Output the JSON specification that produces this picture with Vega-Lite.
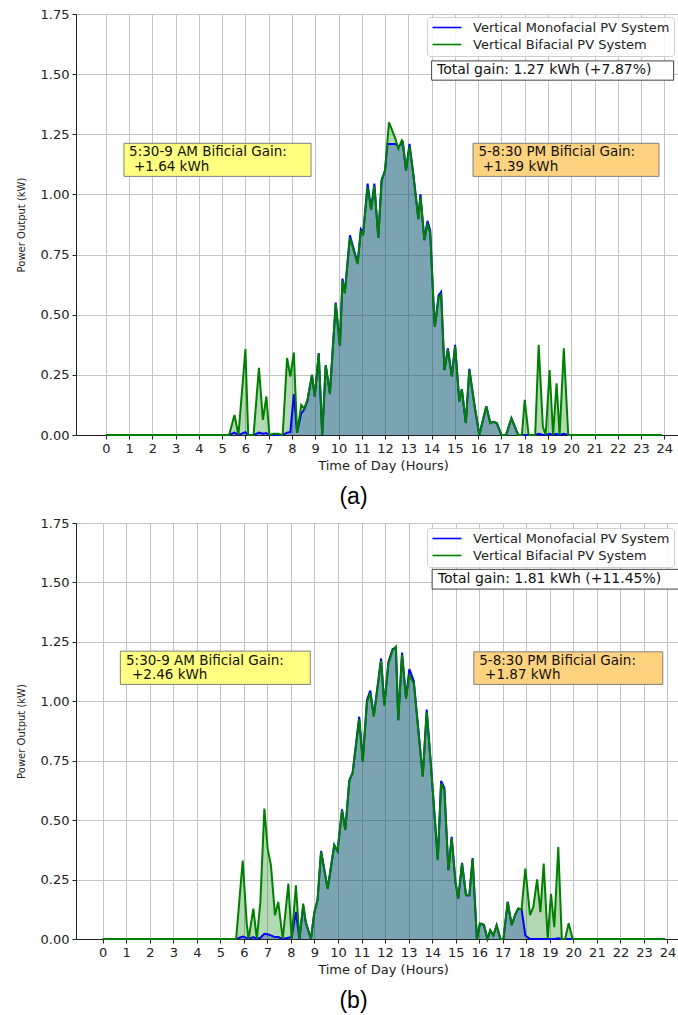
{
  "$schema": "https://vega.github.io/schema/vega-lite/v6.json",
  "padding": {"left": 15, "top": 7, "right": 0, "bottom": 0},
  "background": "white",
  "spacing": 6,
  "config": {
    "view": {"stroke": "#222", "strokeWidth": 1},
    "axis": {"domainColor": "#222", "tickColor": "#222", "gridColor": "#c4c4c4", "gridWidth": 1, "labelFont": "DejaVu Sans", "labelFontSize": 13, "labelColor": "#222", "titleFont": "DejaVu Sans", "titleFontWeight": "normal", "titleColor": "#222", "tickSize": 4, "labelPadding": 3},
    "legend": {"orient": "none", "title": null, "symbolType": "M-1,0H4.8", "symbolSize": 100, "symbolStrokeWidth": 1.6, "symbolOpacity": 1, "labelFont": "DejaVu Sans", "labelFontSize": 13, "labelColor": "#222", "labelLimit": 400, "padding": 4, "fillColor": "rgba(255,255,255,0.85)", "strokeColor": "#d0d0d0", "cornerRadius": 3, "rowPadding": 3, "labelOffset": 29},
    "title": {"font": "Liberation Sans", "fontSize": 23, "fontWeight": "normal", "color": "#000"}
  },
  "resolve": {"scale": {"color": "independent", "x": "independent", "y": "independent"}, "legend": {"color": "independent"}},
  "datasets": {
    "a": [
      {"t": 0, "m": 0, "b": 0}, {"t": 5.3, "m": 0, "b": 0}, {"t": 5.53, "m": 0.01, "b": 0.083}, {"t": 5.7, "m": 0, "b": 0},
      {"t": 6.0, "m": 0.012, "b": 0.357}, {"t": 6.12, "m": 0, "b": 0}, {"t": 6.35, "m": 0, "b": 0}, {"t": 6.58, "m": 0.01, "b": 0.279},
      {"t": 6.75, "m": 0.005, "b": 0.063}, {"t": 6.9, "m": 0.008, "b": 0.16}, {"t": 7.03, "m": 0, "b": 0}, {"t": 7.2, "m": 0, "b": 0.005},
      {"t": 7.4, "m": 0, "b": 0.005}, {"t": 7.6, "m": 0, "b": 0}, {"t": 7.79, "m": 0.01, "b": 0.32}, {"t": 7.93, "m": 0.012, "b": 0.243},
      {"t": 8.08, "m": 0.17, "b": 0.343}, {"t": 8.22, "m": 0.01, "b": 0.01}, {"t": 8.4, "m": 0.09, "b": 0.125}, {"t": 8.52, "m": 0.105, "b": 0.11},
      {"t": 8.66, "m": 0.14, "b": 0.145}, {"t": 8.86, "m": 0.25, "b": 0.25}, {"t": 8.98, "m": 0.16, "b": 0.16}, {"t": 9.15, "m": 0.34, "b": 0.34},
      {"t": 9.3, "m": 0, "b": 0}, {"t": 9.45, "m": 0.29, "b": 0.29}, {"t": 9.63, "m": 0.175, "b": 0.17}, {"t": 9.88, "m": 0.55, "b": 0.545},
      {"t": 10.06, "m": 0.37, "b": 0.37}, {"t": 10.17, "m": 0.65, "b": 0.64}, {"t": 10.27, "m": 0.59, "b": 0.59}, {"t": 10.49, "m": 0.83, "b": 0.82},
      {"t": 10.82, "m": 0.715, "b": 0.71}, {"t": 10.96, "m": 0.855, "b": 0.845}, {"t": 11.06, "m": 0.84, "b": 0.835}, {"t": 11.25, "m": 1.045, "b": 1.03},
      {"t": 11.4, "m": 0.94, "b": 0.935}, {"t": 11.54, "m": 1.045, "b": 1.035}, {"t": 11.71, "m": 0.82, "b": 0.82}, {"t": 11.85, "m": 1.06, "b": 1.055},
      {"t": 12.0, "m": 1.1, "b": 1.1}, {"t": 12.1, "m": 1.21, "b": 1.22}, {"t": 12.17, "m": 1.21, "b": 1.3}, {"t": 12.33, "m": 1.21, "b": 1.26},
      {"t": 12.45, "m": 1.21, "b": 1.23}, {"t": 12.57, "m": 1.2, "b": 1.19}, {"t": 12.72, "m": 1.21, "b": 1.225}, {"t": 12.76, "m": 1.22, "b": 1.22},
      {"t": 12.9, "m": 1.1, "b": 1.1}, {"t": 13.05, "m": 1.21, "b": 1.2}, {"t": 13.22, "m": 1.08, "b": 1.075}, {"t": 13.43, "m": 0.9, "b": 0.896},
      {"t": 13.52, "m": 1.0, "b": 0.99}, {"t": 13.69, "m": 0.81, "b": 0.81}, {"t": 13.82, "m": 0.89, "b": 0.875}, {"t": 13.94, "m": 0.85, "b": 0.84},
      {"t": 14.08, "m": 0.55, "b": 0.55}, {"t": 14.14, "m": 0.45, "b": 0.45}, {"t": 14.3, "m": 0.58, "b": 0.57}, {"t": 14.41, "m": 0.595, "b": 0.583},
      {"t": 14.55, "m": 0.27, "b": 0.27}, {"t": 14.7, "m": 0.36, "b": 0.354}, {"t": 14.87, "m": 0.245, "b": 0.243}, {"t": 15.01, "m": 0.375, "b": 0.368},
      {"t": 15.19, "m": 0.14, "b": 0.139}, {"t": 15.3, "m": 0.19, "b": 0.19}, {"t": 15.47, "m": 0.05, "b": 0.049}, {"t": 15.62, "m": 0.275, "b": 0.27},
      {"t": 15.85, "m": 0.12, "b": 0.118}, {"t": 16.05, "m": 0, "b": 0}, {"t": 16.35, "m": 0.12, "b": 0.12}, {"t": 16.52, "m": 0.05, "b": 0.049},
      {"t": 16.65, "m": 0.055, "b": 0.055}, {"t": 16.8, "m": 0.05, "b": 0.05}, {"t": 17.0, "m": 0, "b": 0}, {"t": 17.2, "m": 0, "b": 0},
      {"t": 17.43, "m": 0.07, "b": 0.07}, {"t": 17.72, "m": 0, "b": 0}, {"t": 17.88, "m": 0, "b": 0}, {"t": 18.0, "m": 0, "b": 0.146},
      {"t": 18.17, "m": 0, "b": 0}, {"t": 18.45, "m": 0, "b": 0}, {"t": 18.6, "m": 0.005, "b": 0.375}, {"t": 18.78, "m": 0, "b": 0.035},
      {"t": 18.9, "m": 0, "b": 0}, {"t": 19.07, "m": 0.005, "b": 0.27}, {"t": 19.22, "m": 0, "b": 0}, {"t": 19.37, "m": 0.005, "b": 0.215},
      {"t": 19.5, "m": 0, "b": 0}, {"t": 19.68, "m": 0.005, "b": 0.36}, {"t": 19.87, "m": 0, "b": 0}, {"t": 23.9, "m": 0, "b": 0}
    ],
    "b": [
      {"t": 0, "m": 0, "b": 0}, {"t": 5.67, "m": 0, "b": 0}, {"t": 5.95, "m": 0.01, "b": 0.33}, {"t": 6.12, "m": 0.005, "b": 0.065},
      {"t": 6.2, "m": 0, "b": 0}, {"t": 6.4, "m": 0.008, "b": 0.128}, {"t": 6.55, "m": 0, "b": 0}, {"t": 6.7, "m": 0.005, "b": 0.156},
      {"t": 6.87, "m": 0.022, "b": 0.549}, {"t": 7.01, "m": 0.02, "b": 0.38}, {"t": 7.15, "m": 0.015, "b": 0.31}, {"t": 7.32, "m": 0.008, "b": 0.1},
      {"t": 7.46, "m": 0.008, "b": 0.156}, {"t": 7.65, "m": 0, "b": 0}, {"t": 7.89, "m": 0.005, "b": 0.233}, {"t": 8.03, "m": 0.008, "b": 0.0},
      {"t": 8.21, "m": 0.114, "b": 0.226}, {"t": 8.36, "m": 0, "b": 0}, {"t": 8.52, "m": 0.14, "b": 0.149}, {"t": 8.63, "m": 0.07, "b": 0.07},
      {"t": 8.85, "m": 0, "b": 0}, {"t": 8.99, "m": 0.11, "b": 0.11}, {"t": 9.13, "m": 0.165, "b": 0.165}, {"t": 9.28, "m": 0.37, "b": 0.366},
      {"t": 9.56, "m": 0.212, "b": 0.21}, {"t": 9.84, "m": 0.395, "b": 0.395}, {"t": 9.98, "m": 0.37, "b": 0.37}, {"t": 10.17, "m": 0.545, "b": 0.54},
      {"t": 10.31, "m": 0.46, "b": 0.458}, {"t": 10.48, "m": 0.668, "b": 0.665}, {"t": 10.62, "m": 0.7, "b": 0.696}, {"t": 10.9, "m": 0.935, "b": 0.925},
      {"t": 11.05, "m": 0.75, "b": 0.745}, {"t": 11.23, "m": 1.005, "b": 0.995}, {"t": 11.37, "m": 1.045, "b": 1.035}, {"t": 11.52, "m": 0.94, "b": 0.935},
      {"t": 11.83, "m": 1.18, "b": 1.17}, {"t": 11.97, "m": 0.985, "b": 0.98}, {"t": 12.14, "m": 1.165, "b": 1.155}, {"t": 12.32, "m": 1.22, "b": 1.215},
      {"t": 12.46, "m": 1.225, "b": 1.23}, {"t": 12.56, "m": 0.92, "b": 0.92}, {"t": 12.72, "m": 1.205, "b": 1.195}, {"t": 12.89, "m": 1.015, "b": 1.01},
      {"t": 13.03, "m": 1.135, "b": 1.11}, {"t": 13.22, "m": 1.085, "b": 1.075}, {"t": 13.6, "m": 0.685, "b": 0.682}, {"t": 13.77, "m": 0.965, "b": 0.955},
      {"t": 13.95, "m": 0.73, "b": 0.725}, {"t": 14.24, "m": 0.335, "b": 0.331}, {"t": 14.38, "m": 0.665, "b": 0.654}, {"t": 14.52, "m": 0.635, "b": 0.625},
      {"t": 14.69, "m": 0.29, "b": 0.289}, {"t": 14.83, "m": 0.43, "b": 0.423}, {"t": 14.99, "m": 0.24, "b": 0.24}, {"t": 15.11, "m": 0.17, "b": 0.17},
      {"t": 15.27, "m": 0.32, "b": 0.317}, {"t": 15.44, "m": 0.184, "b": 0.184}, {"t": 15.58, "m": 0.184, "b": 0.184}, {"t": 15.72, "m": 0.34, "b": 0.338},
      {"t": 15.9, "m": 0, "b": 0}, {"t": 16.03, "m": 0.065, "b": 0.065}, {"t": 16.2, "m": 0.06, "b": 0.06}, {"t": 16.35, "m": 0, "b": 0},
      {"t": 16.47, "m": 0.036, "b": 0.036}, {"t": 16.6, "m": 0.015, "b": 0.015}, {"t": 16.74, "m": 0.058, "b": 0.058}, {"t": 16.9, "m": 0, "b": 0},
      {"t": 17.03, "m": 0, "b": 0}, {"t": 17.21, "m": 0.156, "b": 0.156}, {"t": 17.38, "m": 0.058, "b": 0.058}, {"t": 17.52, "m": 0.1, "b": 0.1},
      {"t": 17.66, "m": 0.128, "b": 0.128}, {"t": 17.8, "m": 0.125, "b": 0.125}, {"t": 17.96, "m": 0.015, "b": 0.296}, {"t": 18.16, "m": 0, "b": 0.1},
      {"t": 18.3, "m": 0, "b": 0.135}, {"t": 18.46, "m": 0, "b": 0.251}, {"t": 18.6, "m": 0, "b": 0.113}, {"t": 18.74, "m": 0, "b": 0.317},
      {"t": 18.91, "m": 0, "b": 0}, {"t": 19.05, "m": 0, "b": 0.19}, {"t": 19.19, "m": 0, "b": 0.05}, {"t": 19.36, "m": 0.003, "b": 0.387},
      {"t": 19.51, "m": 0, "b": 0}, {"t": 19.65, "m": 0, "b": 0}, {"t": 19.8, "m": 0, "b": 0.066}, {"t": 19.97, "m": 0, "b": 0}, {"t": 23.9, "m": 0, "b": 0}
    ]
  },
  "vconcat": [
    {
      "width": 603,
      "height": 421,
      "title": {"text": "(a)", "orient": "bottom", "anchor": "middle", "frame": "group", "dx": -24, "offset": 14},
      "encoding": {
        "x": {"field": "t", "type": "quantitative", "title": "Time of Day (Hours)", "scale": {"domain": [-1.28, 24.63], "nice": false, "zero": false},
          "axis": {"values": [0,1,2,3,4,5,6,7,8,9,10,11,12,13,14,15,16,17,18,19,20,21,22,23,24], "format": "d", "labelFlush": false, "labelOverlap": false, "titleFontSize": 13, "titlePadding": 4, "titleX": 307}},
        "y": {"field": "v", "type": "quantitative", "title": "Power Output (kW)", "stack": null, "scale": {"domain": [0, 1.75], "nice": false},
          "axis": {"values": [0, 0.25, 0.5, 0.75, 1, 1.25, 1.5, 1.75], "format": ".2f", "titleFontSize": 10, "titlePadding": 14}}
      },
      "layer": [
        {
          "data": {"name": "a"},
          "transform": [{"fold": ["m", "b"], "as": ["k", "v"]}, {"filter": "datum.k == 'm'"}],
          "mark": {"type": "area", "fill": "#0000ff", "opacity": 0.3}
        },
        {
          "data": {"name": "a"},
          "transform": [{"fold": ["m", "b"], "as": ["k", "v"]}, {"filter": "datum.k == 'b'"}],
          "mark": {"type": "area", "fill": "#008000", "opacity": 0.3}
        },
        {
          "data": {"name": "a"},
          "transform": [{"fold": ["m", "b"], "as": ["k", "v"]}],
          "mark": {"type": "line", "strokeWidth": 2},
          "encoding": {
            "color": {"field": "k", "type": "nominal", "scale": {"domain": ["m", "b"], "range": ["#0000ff", "#008000"]},
              "legend": {"legendX": 351, "legendY": 3, "labelExpr": "datum.label == 'm' ? 'Vertical Monofacial PV System' : 'Vertical Bifacial PV System'"}}
          }
        },
        {
          "data": {"values": [{"t": 0.78, "t2": 8.82, "v": 1.075, "v2": 1.2125}]},
          "mark": {"type": "rect", "fill": "#ffff80", "stroke": "#808080", "strokeWidth": 1},
          "encoding": {"x2": {"field": "t2"}, "y2": {"field": "v2"}}
        },
        {
          "data": {"values": [{"t": 15.78, "t2": 23.77, "v": 1.075, "v2": 1.2125}]},
          "mark": {"type": "rect", "fill": "#ffd280", "stroke": "#808080", "strokeWidth": 1},
          "encoding": {"x2": {"field": "t2"}, "y2": {"field": "v2"}}
        },
        {
          "data": {"values": [{"t": 14.0, "t2": 24.4, "v": 1.475, "v2": 1.555}]},
          "mark": {"type": "rect", "fill": "#ffffff", "stroke": "#444444", "strokeWidth": 1},
          "encoding": {"x2": {"field": "t2"}, "y2": {"field": "v2"}}
        },
        {
          "data": {"values": [
            {"t": 1.0, "v": 1.175, "label": "5:30-9 AM Bificial Gain:"},
            {"t": 1.21, "v": 1.116, "label": "+1.64 kWh"},
            {"t": 16.01, "v": 1.175, "label": "5-8:30 PM Bificial Gain:"},
            {"t": 16.2, "v": 1.116, "label": "+1.39 kWh"}
          ]},
          "mark": {"type": "text", "align": "left", "baseline": "middle", "font": "DejaVu Sans", "fontSize": 13.5, "color": "#111"},
          "encoding": {"text": {"field": "label"}}
        },
        {
          "data": {"values": [
            {"t": 14.23, "v": 1.518, "label": "Total gain: 1.27 kWh (+7.87%)"}
          ]},
          "mark": {"type": "text", "align": "left", "baseline": "middle", "font": "DejaVu Sans", "fontSize": 14, "color": "#111"},
          "encoding": {"text": {"field": "label"}}
        }
      ]
    },
    {
      "width": 603,
      "height": 416,
      "title": {"text": "(b)", "orient": "bottom", "anchor": "middle", "frame": "group", "dx": -24, "offset": 14},
      "encoding": {
        "x": {"field": "t", "type": "quantitative", "title": "Time of Day (Hours)", "scale": {"domain": [-1.135, 24.49], "nice": false, "zero": false},
          "axis": {"values": [0,1,2,3,4,5,6,7,8,9,10,11,12,13,14,15,16,17,18,19,20,21,22,23,24], "format": "d", "labelFlush": false, "labelOverlap": false, "titleFontSize": 13, "titlePadding": 4, "titleX": 307}},
        "y": {"field": "v", "type": "quantitative", "title": "Power Output (kW)", "stack": null, "scale": {"domain": [0, 1.75], "nice": false},
          "axis": {"values": [0, 0.25, 0.5, 0.75, 1, 1.25, 1.5, 1.75], "format": ".2f", "titleFontSize": 10, "titlePadding": 14}}
      },
      "layer": [
        {
          "data": {"name": "b"},
          "transform": [{"fold": ["m", "b"], "as": ["k", "v"]}, {"filter": "datum.k == 'm'"}],
          "mark": {"type": "area", "fill": "#0000ff", "opacity": 0.3}
        },
        {
          "data": {"name": "b"},
          "transform": [{"fold": ["m", "b"], "as": ["k", "v"]}, {"filter": "datum.k == 'b'"}],
          "mark": {"type": "area", "fill": "#008000", "opacity": 0.3}
        },
        {
          "data": {"name": "b"},
          "transform": [{"fold": ["m", "b"], "as": ["k", "v"]}],
          "mark": {"type": "line", "strokeWidth": 2},
          "encoding": {
            "color": {"field": "k", "type": "nominal", "scale": {"domain": ["m", "b"], "range": ["#0000ff", "#008000"]},
              "legend": {"legendX": 351, "legendY": 5, "labelExpr": "datum.label == 'm' ? 'Vertical Monofacial PV System' : 'Vertical Bifacial PV System'"}}
          }
        },
        {
          "data": {"values": [{"t": 0.75, "t2": 8.82, "v": 1.071, "v2": 1.211}]},
          "mark": {"type": "rect", "fill": "#ffff80", "stroke": "#808080", "strokeWidth": 1},
          "encoding": {"x2": {"field": "t2"}, "y2": {"field": "v2"}}
        },
        {
          "data": {"values": [{"t": 15.77, "t2": 23.8, "v": 1.071, "v2": 1.208}]},
          "mark": {"type": "rect", "fill": "#ffd280", "stroke": "#808080", "strokeWidth": 1},
          "encoding": {"x2": {"field": "t2"}, "y2": {"field": "v2"}}
        },
        {
          "data": {"values": [{"t": 14.0, "t2": 24.49, "v": 1.472, "v2": 1.555}]},
          "mark": {"type": "rect", "fill": "#ffffff", "stroke": "#444444", "strokeWidth": 1},
          "encoding": {"x2": {"field": "t2"}, "y2": {"field": "v2"}}
        },
        {
          "data": {"values": [
            {"t": 0.99, "v": 1.171, "label": "5:30-9 AM Bificial Gain:"},
            {"t": 1.245, "v": 1.111, "label": "+2.46 kWh"},
            {"t": 16.0, "v": 1.171, "label": "5-8:30 PM Bificial Gain:"},
            {"t": 16.25, "v": 1.111, "label": "+1.87 kWh"}
          ]},
          "mark": {"type": "text", "align": "left", "baseline": "middle", "font": "DejaVu Sans", "fontSize": 13.5, "color": "#111"},
          "encoding": {"text": {"field": "label"}}
        },
        {
          "data": {"values": [
            {"t": 14.24, "v": 1.514, "label": "Total gain: 1.81 kWh (+11.45%)"}
          ]},
          "mark": {"type": "text", "align": "left", "baseline": "middle", "font": "DejaVu Sans", "fontSize": 14, "color": "#111"},
          "encoding": {"text": {"field": "label"}}
        }
      ]
    }
  ]
}
